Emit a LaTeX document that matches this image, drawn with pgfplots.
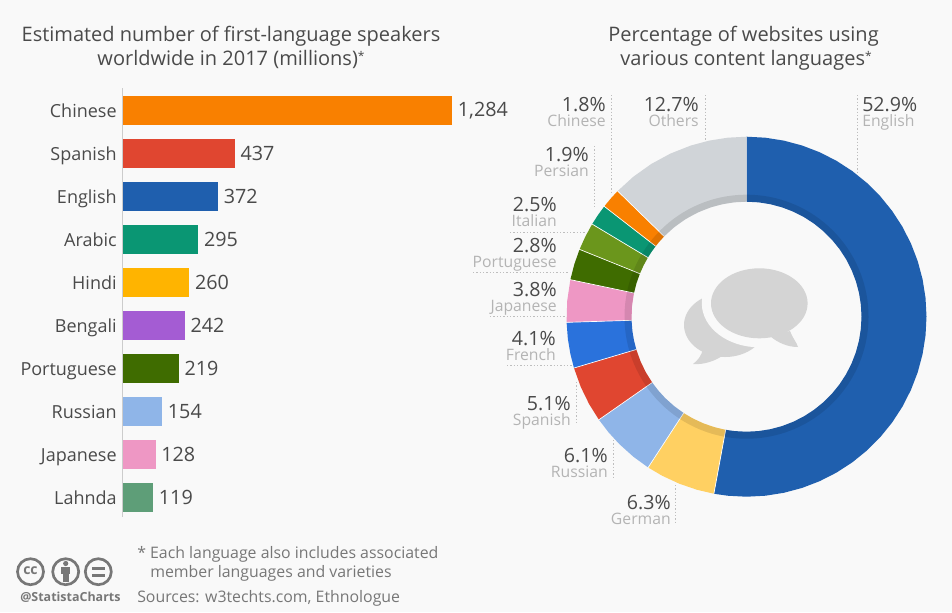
\documentclass[border=0pt]{standalone}
\usepackage{fontspec}
\setmainfont{Open Sans}
\usepackage{pgfplots}
\pgfplotsset{compat=1.18}
\usepgfplotslibrary{polar}
\definecolor{bg}{HTML}{F9F9F9}
\definecolor{tx}{HTML}{4A4A4A}
\definecolor{sub}{HTML}{B4B4B4}
\definecolor{foot}{HTML}{777777}
\definecolor{leader}{HTML}{BEBEBE}
\definecolor{bubble}{HTML}{D4D4D4}
\definecolor{cOrange}{HTML}{F98000}
\definecolor{cRed}{HTML}{E04630}
\definecolor{cBlue}{HTML}{1F5FAE}
\definecolor{cTeal}{HTML}{0A9673}
\definecolor{cAmber}{HTML}{FFB400}
\definecolor{cPurple}{HTML}{A45CD3}
\definecolor{cDGreen}{HTML}{3F6C00}
\definecolor{cLBlue}{HTML}{8FB5E8}
\definecolor{cPink}{HTML}{EE97C4}
\definecolor{cLahnda}{HTML}{5E9E78}
\definecolor{cGerman}{HTML}{FFD062}
\definecolor{cFrench}{HTML}{2A72DC}
\definecolor{cOlive}{HTML}{6B961C}
\definecolor{cOthers}{HTML}{D0D4D8}
% slice label: right edge x, percent baseline y
\newcommand{\lab}[4]{%
  \node[anchor=base east,inner sep=0,text=tx,font=\fontsize{14.7}{16}\selectfont] at (#1,#2) {#3};
  \node[anchor=base east,inner sep=0,text=sub,font=\fontsize{11.8}{14}\selectfont] at (#1,#2+15) {#4};}
\newcommand{\titlestar}{\raisebox{3.5pt}{\fontsize{9}{9}\selectfont *}}
\begin{document}
\begin{tikzpicture}[x=.75pt,y=-.75pt]
\fill[bg] (0,0) rectangle (952,612);
\useasboundingbox (0,0) rectangle (952,612);
\coordinate (barpos) at (122.7,88);
\coordinate (ringpos) at (746.5,316.7);

% titles
\node[inner sep=0,anchor=base,text=tx,font=\fontsize{15}{18}\selectfont] at (231,41.5)
  {Estimated number of first-language speakers};
\node[inner sep=0,anchor=base,text=tx,font=\fontsize{15}{18}\selectfont] at (231,65.5)
  {worldwide in 2017 (millions)\titlestar};
\node[inner sep=0,anchor=base,text=tx,font=\fontsize{15}{18}\selectfont] at (743.5,41.5)
  {Percentage of websites using};
\node[inner sep=0,anchor=base,text=tx,font=\fontsize{15}{18}\selectfont] at (746,65.5)
  {various content languages\titlestar};

% bars
\begin{axis}[
  at={(barpos)}, anchor=north west,
  scale only axis, width=300pt, height=321.75pt,
  xbar, bar shift=0pt, bar width=22.1pt,
  xmin=0, xmax=1558.8,
  ymin=-0.523, ymax=9.453, y dir=reverse,
  axis x line=none, axis y line=left,
  y axis line style={-,color=black!20,line width=1.1pt},
  ytick={0,...,9},
  yticklabels={Chinese,Spanish,English,Arabic,Hindi,Bengali,Portuguese,Russian,Japanese,Lahnda},
  major tick length=0pt,
  yticklabel style={font=\fontsize{13.5}{16}\selectfont,text=tx,xshift=-1pt,text height=13pt,text depth=2.2pt},
  nodes near coords,
  nodes near coords align={horizontal},
  every node near coord/.append style={font=\fontsize{14.8}{16}\selectfont,text=tx,xshift=.75pt},
  /pgf/number format/.cd,1000 sep={,},assume math mode=true,
  /tikz/.cd,
  clip=false,
]
\addplot[fill=cOrange,draw=none] coordinates {(1284,0)};
\addplot[fill=cRed,draw=none] coordinates {(437,1)};
\addplot[fill=cBlue,draw=none] coordinates {(372,2)};
\addplot[fill=cTeal,draw=none] coordinates {(295,3)};
\addplot[fill=cAmber,draw=none] coordinates {(260,4)};
\addplot[fill=cPurple,draw=none] coordinates {(242,5)};
\addplot[fill=cDGreen,draw=none] coordinates {(219,6)};
\addplot[fill=cLBlue,draw=none] coordinates {(154,7)};
\addplot[fill=cPink,draw=none] coordinates {(128,8)};
\addplot[fill=cLahnda,draw=none] coordinates {(119,9)};
\end{axis}

% donut: (angle, radius), clockwise from the top, 3.6 degrees per percent
\begin{polaraxis}[
  at={(ringpos)}, anchor=center,
  scale only axis, width=270pt, height=270pt,
  xmin=0, xmax=360, ymin=0, ymax=180,
  hide axis, clip=false,
]
% English 52.9
\addplot[fill=cBlue,draw=none] coordinates {
  (90,180)(84,180)(78,180)(72,180)(66,180)(60,180)(54,180)(48,180)(42,180)(36,180)(30,180)
  (24,180)(18,180)(12,180)(6,180)(0,180)(-6,180)(-12,180)(-18,180)(-24,180)(-30,180)
  (-36,180)(-42,180)(-48,180)(-54,180)(-60,180)(-66,180)(-72,180)(-78,180)(-84,180)(-90,180)(-96,180)(-100.44,180)
  (-100.44,115)(-96,115)(-90,115)(-84,115)(-78,115)(-72,115)(-66,115)(-60,115)(-54,115)(-48,115)(-42,115)(-36,115)
  (-30,115)(-24,115)(-18,115)(-12,115)(-6,115)(0,115)(6,115)(12,115)(18,115)(24,115)(30,115)
  (36,115)(42,115)(48,115)(54,115)(60,115)(66,115)(72,115)(78,115)(84,115)(90,115)};
% German 6.3
\addplot[fill=cGerman,draw=none] coordinates {
  (-100.44,180)(-106,180)(-112,180)(-118,180)(-123.12,180)
  (-123.12,115)(-118,115)(-112,115)(-106,115)(-100.44,115)};
% Russian 6.1
\addplot[fill=cLBlue,draw=none] coordinates {
  (-123.12,180)(-129,180)(-135,180)(-140,180)(-145.08,180)
  (-145.08,115)(-140,115)(-135,115)(-129,115)(-123.12,115)};
% Spanish 5.1
\addplot[fill=cRed,draw=none] coordinates {
  (-145.08,180)(-151,180)(-157,180)(-163.44,180)
  (-163.44,115)(-157,115)(-151,115)(-145.08,115)};
% French 4.1
\addplot[fill=cFrench,draw=none] coordinates {
  (-163.44,180)(-168,180)(-173,180)(-178.2,180)
  (-178.2,115)(-173,115)(-168,115)(-163.44,115)};
% Japanese 3.8
\addplot[fill=cPink,draw=none] coordinates {
  (-178.2,180)(-185,180)(-191.88,180)
  (-191.88,115)(-185,115)(-178.2,115)};
% Portuguese 2.8
\addplot[fill=cDGreen,draw=none] coordinates {
  (-191.88,180)(-197,180)(-201.96,180)
  (-201.96,115)(-197,115)(-191.88,115)};
% Italian 2.5
\addplot[fill=cOlive,draw=none] coordinates {
  (-201.96,180)(-206.5,180)(-210.96,180)
  (-210.96,115)(-206.5,115)(-201.96,115)};
% Persian 1.9
\addplot[fill=cTeal,draw=none] coordinates {
  (-210.96,180)(-214.4,180)(-217.8,180)
  (-217.8,115)(-214.4,115)(-210.96,115)};
% Chinese 1.8
\addplot[fill=cOrange,draw=none] coordinates {
  (-217.8,180)(-221,180)(-224.28,180)
  (-224.28,115)(-221,115)(-217.8,115)};
% Others 12.7
\addplot[fill=cOthers,draw=none] coordinates {
  (-224.28,180)(-231,180)(-238,180)(-245,180)(-252,180)(-258,180)(-264,180)(-270,180)
  (-270,115)(-264,115)(-258,115)(-252,115)(-245,115)(-238,115)(-231,115)(-224.28,115)};
% separators
\pgfplotsinvokeforeach{-100.44,-123.12,-145.08,-163.44,-178.2,-191.88,-201.96,-210.96,-217.8,-224.28}{
  \addplot[white,line width=.5pt] coordinates {(#1,115)(#1,180.5)};
}
\end{polaraxis}

% shadow band on the inner edge of the ring
\fill[black,opacity=.1,even odd rule] (746.5,316.7) circle[radius=122] circle[radius=115];

% speech bubbles
\fill[bubble] (725,325) ellipse[x radius=41,y radius=32];
\fill[bubble] (703,348) .. controls (702,356) and (697,361) .. (693,364)
  .. controls (703,365) and (715,361) .. (722,356) -- cycle;
\fill[bg] (759.3,303.3) ellipse[x radius=57.5,y radius=44];
\fill[bubble] (759.3,303.3) ellipse[x radius=48.3,y radius=35];
\fill[bubble] (770,336) .. controls (778,343) and (788,347) .. (798,347)
  .. controls (797,343) and (792,337) .. (790,331) -- cycle;

% leaders
\begin{scope}[leader,line width=.6pt,dash pattern=on 1pt off 1.5pt]
\draw (857.3,95) -- (857.3,172);
\draw (705,95) -- (705,141);
\draw (611,95) -- (611,193);
\draw (594.3,146) -- (594.3,208);
\draw (510,232.3) -- (585,232.3);
\draw (473,272.3) -- (568,272.3);
\draw (490,316) -- (566,316);
\draw (507,365) -- (572,365);
\draw (576,382) -- (576,425);
\draw (613,440) -- (613,478);
\draw (675.7,485) -- (675.7,525);
\end{scope}

% slice labels
\lab{699}{111}{12.7\%}{Others}
\lab{606}{111}{1.8\%}{Chinese}
\lab{589}{161}{1.9\%}{Persian}
\lab{557}{211.5}{2.5\%}{Italian}
\lab{557}{252}{2.8\%}{Portuguese}
\lab{557}{296}{3.8\%}{Japanese}
\lab{556}{345}{4.1\%}{French}
\lab{571}{410}{5.1\%}{Spanish}
\lab{608}{462}{6.1\%}{Russian}
\lab{671}{509}{6.3\%}{German}
\node[anchor=base west,inner sep=0,text=tx,font=\fontsize{14.7}{16}\selectfont] at (862,111) {52.9\%};
\node[anchor=base west,inner sep=0,text=sub,font=\fontsize{11.8}{14}\selectfont] at (862,126) {English};

% footer
\begin{scope}[every node/.style={anchor=base west,inner sep=0,text=foot,font=\fontsize{11.9}{14}\selectfont}]
\node at (137,558) {* Each language also includes associated};
\node at (150,577) {member languages and varieties};
\node at (137,602.5) {Sources: w3techts.com, Ethnologue};
\end{scope}
\node[anchor=base west,inner sep=0,text=foot,font=\fontsize{9.35}{11}\selectfont\bfseries] at (20,601) {@StatistaCharts};
\begin{scope}[foot,line width=2pt]
\draw (30.5,571.7) circle[radius=13];
\draw (65.7,571.7) circle[radius=13];
\draw (98.3,571.7) circle[radius=13];
\fill (65.7,563.5) circle[radius=2.6];
\fill (61,567) rectangle (70.4,574);
\fill (62.7,574) rectangle (68.7,582);
\fill (92,566.5) rectangle (104.6,569.5);
\fill (92,573.5) rectangle (104.6,576.5);
\node[inner sep=0,text=foot,font=\fontsize{10.5}{11}\selectfont\bfseries] at (30.5,570.5) {cc};
\end{scope}
\end{tikzpicture}
\end{document}
